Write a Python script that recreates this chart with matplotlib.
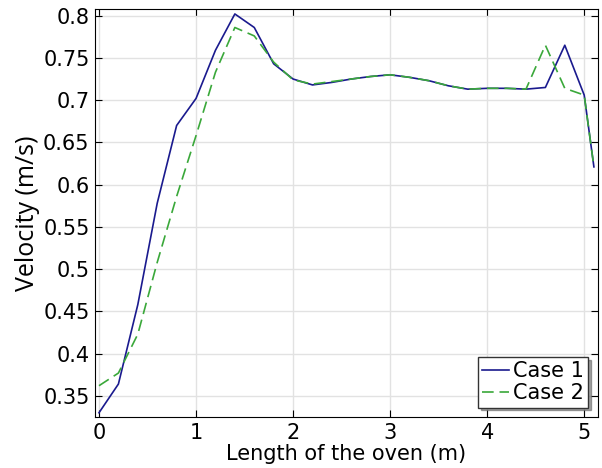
import numpy as np
import matplotlib.pyplot as plt

# velocity along the oven for the two cases
x = [0, 0.2, 0.4, 0.6, 0.8, 1.0, 1.2, 1.4, 1.6, 1.8, 2.0, 2.2, 2.4, 2.6, 2.8,
     3.0, 3.2, 3.4, 3.6, 3.8, 4.0, 4.2, 4.4, 4.6, 4.8, 5.0, 5.1]
case1 = [0.330, 0.364, 0.458, 0.578, 0.670, 0.702, 0.759, 0.802, 0.786, 0.743,
         0.725, 0.718, 0.721, 0.725, 0.728, 0.730, 0.727, 0.723, 0.717, 0.713,
         0.714, 0.714, 0.713, 0.715, 0.765, 0.706, 0.621]
case2 = [0.362, 0.377, 0.423, 0.508, 0.586, 0.658, 0.733, 0.786, 0.776, 0.745,
         0.724, 0.719, 0.722, 0.725, 0.728, 0.730, 0.727, 0.723, 0.717, 0.713,
         0.714, 0.714, 0.713, 0.765, 0.714, 0.706, 0.621]

fig = plt.figure(figsize=(6.02, 4.68), dpi=100)
ax = fig.add_axes([0.158, 0.109, 0.835, 0.872])

ax.plot(x, case1, color='#1a1a8e', lw=1.2, label='Case 1')
ax.plot(x, case2, color='#3aa83a', lw=1.2, ls=(0, (7, 3.5)), label='Case 2')

ax.set_xlim(-0.04, 5.14)
ax.set_ylim(0.325, 0.808)
ax.set_xticks(np.arange(0, 6, 1))
ax.set_yticks(np.arange(0.35, 0.81, 0.05))
ax.set_yticklabels(['0.35', '0.4', '0.45', '0.5', '0.55', '0.6', '0.65', '0.7', '0.75', '0.8'])
ax.grid(True, color='#e2e2e2', lw=1)
ax.set_axisbelow(True)
ax.tick_params(direction='in', top=True, right=True, length=5, labelsize=15, pad=4)

ax.set_xlabel('Length of the oven (m)', fontsize=15, labelpad=1)
ax.set_ylabel('Velocity (m/s)', fontsize=18, family='Open Sans', labelpad=2)

leg = ax.legend(loc='lower right', fontsize=15, handlelength=1.3, handletextpad=0.2,
                borderpad=0.2, labelspacing=0.1, fancybox=False, shadow=True,
                borderaxespad=0.45)
leg.get_frame().set_edgecolor('#333333')

fig.savefig('out.png', dpi=100)
